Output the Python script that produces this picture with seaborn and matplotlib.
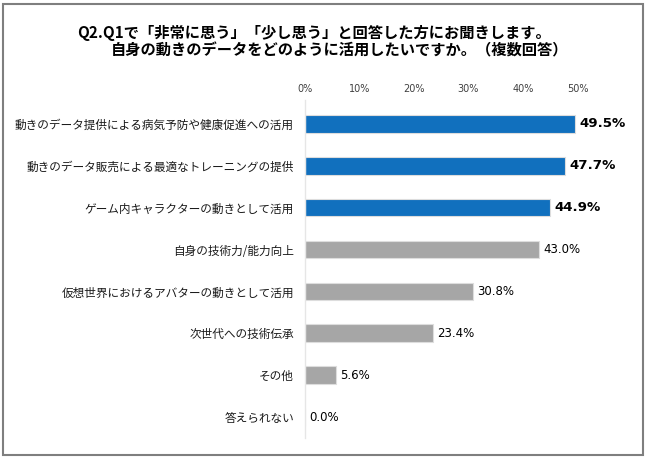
import matplotlib
matplotlib.use("Agg")
import matplotlib.pyplot as plt
import seaborn as sns
import pandas as pd
from matplotlib.patches import Rectangle

# データ
categories = [
    "動きのデータ提供による病気予防や健康促進への活用",
    "動きのデータ販売による最適なトレーニングの提供",
    "ゲーム内キャラクターの動きとして活用",
    "自身の技術力/能力向上",
    "仮想世界におけるアバターの動きとして活用",
    "次世代への技術伝承",
    "その他",
    "答えられない",
]
values = [49.5, 47.7, 44.9, 43.0, 30.8, 23.4, 5.6, 0.0]
highlight = ["top", "top", "top", "other", "other", "other", "other", "other"]
ticks = [0, 10, 20, 30, 40, 50]

df = pd.DataFrame({"項目": categories, "割合": values, "group": highlight})

sns.set_theme(style="white")
plt.rcParams["font.family"] = ["Noto Sans CJK JP", "DejaVu Sans"]

W, H = 650, 459
fig = plt.figure(figsize=(W / 100, H / 100), dpi=100)
ax = fig.add_axes([305 / W, 1 - 438 / H, 272.5 / W, 338 / H])

sns.barplot(data=df, y="項目", x="割合", hue="group", orient="h",
            palette={"top": "#1170BE", "other": "#A6A6A6"}, saturation=1,
            width=0.42, dodge=False, legend=False, ax=ax,
            edgecolor="#dddddd", linewidth=0.8)

ax.set_xlim(0, 50)
ax.set_ylim(7.5, -0.57)
ax.set_xticks(ticks)
ax.set_xticklabels([f"{t}%" for t in ticks], fontsize=7, color="#404040",
                   family="DejaVu Sans")
ax.xaxis.tick_top()
ax.tick_params(axis="x", length=0, pad=4)
ax.tick_params(axis="y", length=0, pad=8, labelsize=8.4, labelcolor="#1a1a1a")
ax.set_xlabel("")
ax.set_ylabel("")
for s in ["top", "right", "bottom"]:
    ax.spines[s].set_visible(False)
ax.spines["left"].set_color("#e6e6e6")
ax.spines["left"].set_linewidth(1)

for i, (v, g) in enumerate(zip(values, highlight)):
    if g == "top":
        ax.text(v + 0.8, i, f"{v:.1f}%", va="center", ha="left", family="DejaVu Sans",
                fontsize=9.6, fontweight="bold", color="black", clip_on=False)
    else:
        ax.text(v + 0.8, i, f"{v:.1f}%", va="center", ha="left", family="DejaVu Sans",
                fontsize=8.5, color="black", clip_on=False)

fig.text(314 / W, 1 - 33 / H, "Q2.Q1で「非常に思う」「少し思う」と回答した方にお聞きします。",
         ha="center", va="center", fontsize=11, fontweight="bold", color="black")
fig.text(340 / W, 1 - 50 / H, "自身の動きのデータをどのように活用したいですか。（複数回答）",
         ha="center", va="center", fontsize=11, fontweight="bold", color="black")

fig.patches.append(Rectangle((3 / W, 4 / H), 640 / W, 451 / H, transform=fig.transFigure,
                             fill=False, edgecolor="#7f7f7f", linewidth=1.5))

fig.savefig("out.png", dpi=100)
